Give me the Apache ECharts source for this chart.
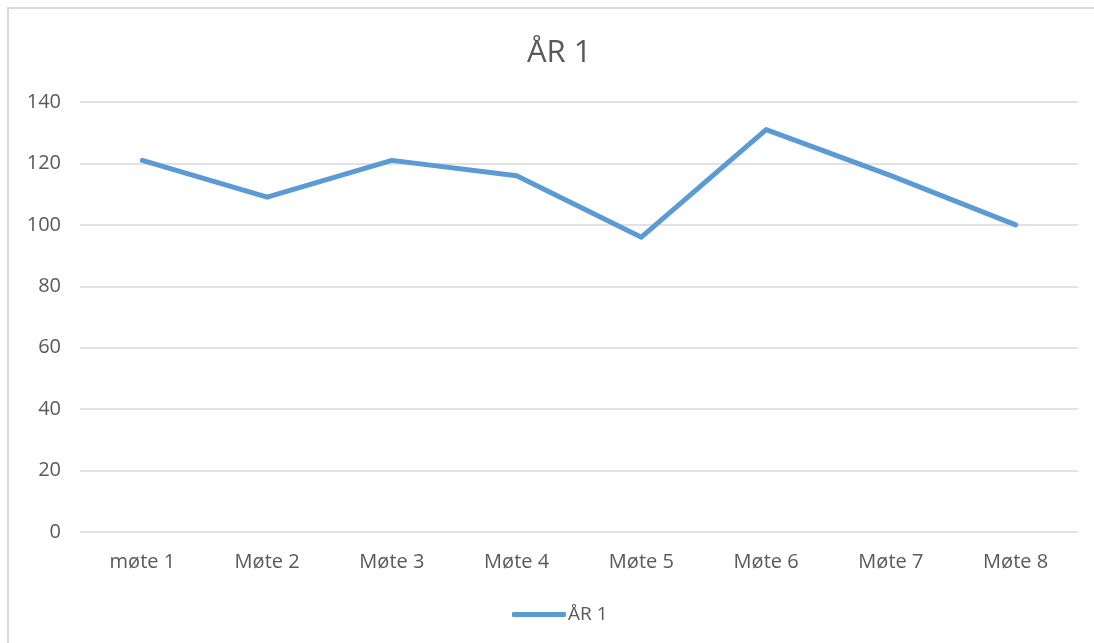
<!DOCTYPE html>
<html>
<head>
<meta charset="utf-8">
<script src="https://cdn.jsdelivr.net/npm/echarts@6/dist/echarts.min.js"></script>
<style>
html,body{margin:0;padding:0;background:#fff;overflow:hidden;}
#frame{position:absolute;left:7px;top:7px;width:1200px;height:800px;border-left:2px solid #d9d9d9;border-top:2px solid #d9d9d9;}
#chart{position:absolute;left:0;top:0;width:1094px;height:643px;}
</style>
</head>
<body>
<div id="frame"></div>
<div id="chart"></div>
<script>
var categories = ['møte 1', 'Møte 2', 'Møte 3', 'Møte 4', 'Møte 5', 'Møte 6', 'Møte 7', 'Møte 8'];
var seriesName = 'ÅR 1';
var values = [121, 109, 121, 116, 96, 131, 116, 100];
var yTicks = { min: 0, max: 140, interval: 20 };

var chart = echarts.init(document.getElementById('chart'), null, { renderer: 'canvas' });
var font = '"Open Sans", "Noto Sans", sans-serif';
chart.setOption({
  backgroundColor: 'transparent',
  animation: false,
  title: {
    text: 'ÅR 1',
    left: 522,
    top: 33,
    textStyle: { fontFamily: font, fontSize: 31, fontWeight: 'normal', color: '#595959' }
  },
  legend: {
    data: [seriesName],
    top: 600,
    left: 507,
    icon: 'roundRect',
    itemWidth: 54,
    itemHeight: 5,
    textStyle: { fontFamily: font, fontSize: 19, color: '#595959', padding: [0, 0, 0, -3] }
  },
  grid: { left: 80, right: 16, top: 102, bottom: 111, containLabel: false },
  xAxis: {
    type: 'category',
    data: categories,
    boundaryGap: true,
    axisLine: { show: false },
    axisTick: { show: false },
    axisLabel: { margin: 20, fontFamily: font, fontSize: 20, color: '#595959' }
  },
  yAxis: {
    type: 'value',
    min: yTicks.min,
    max: yTicks.max,
    interval: yTicks.interval,
    axisLine: { show: false },
    axisTick: { show: false },
    axisLabel: { margin: 19, fontFamily: font, fontSize: 20, color: '#595959' },
    splitLine: { lineStyle: { color: '#d9d9d9', width: 1.5 } }
  },
  series: [{
    name: seriesName,
    type: 'line',
    data: values,
    showSymbol: false,
    symbol: 'none',
    itemStyle: { color: '#5B9BD5' },
    lineStyle: { color: '#5B9BD5', width: 5, cap: 'round', join: 'round' }
  }]
});
</script>
</body>
</html>
